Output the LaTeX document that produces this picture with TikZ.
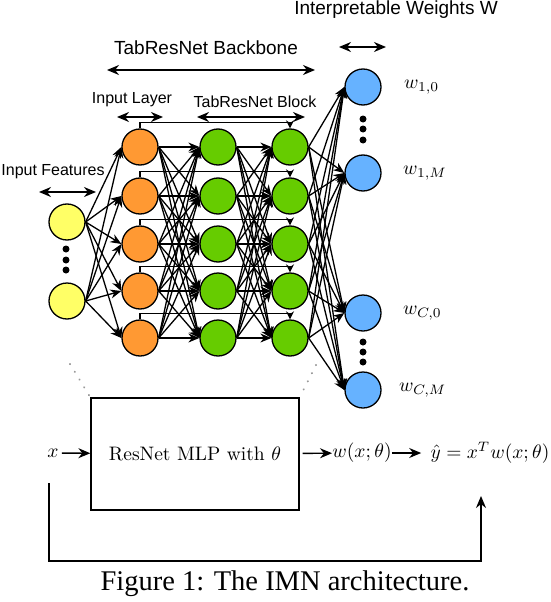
\documentclass[tikz,border=0pt]{standalone}
\usepackage{fontspec}
\newfontfamily\labelfont{Liberation Sans}
\newfontfamily\capfont{Liberation Serif}
\usepackage{graphicx}
\usepackage{tikz}
\usetikzlibrary{
  arrows.meta,
  positioning,
  calc
}
\usepackage{xcolor}
\definecolor{inyellow} {RGB}{255, 255, 102}
\definecolor{layorange}{RGB}{255, 153,  51}
\definecolor{blkgreen} {RGB}{102, 204,   0}
\definecolor{wblue}    {RGB}{102, 178, 255}
\tikzset{
  neuron/.style={
    circle, draw=black, fill=#1, line width=1.3pt,
    minimum size=36pt, inner sep=0pt
  },
  conn/.style={
    -{Stealth[length=11pt,width=9pt]}, line width=1.3pt
  },
  skipconn/.style={
    -{Stealth[length=8pt,width=8pt]}, line width=1.3pt
  },
  spanarrow/.style={
    {Stealth[length=12pt,width=10pt]}-{Stealth[length=12pt,width=10pt]},
    line width=1.5pt
  },
  flow/.style={
    -{Stealth[length=12pt,width=10pt]}, line width=1.4pt
  },
  toplabel/.style={
    font=\labelfont\fontsize{19}{22}\selectfont, inner sep=0pt
  },
  sublabel/.style={
    font=\labelfont\fontsize{16}{19}\selectfont, inner sep=0pt
  },
  mathlabel/.style={
    font=\fontsize{10}{12}\selectfont, scale=1.95, inner sep=0pt
  },
  vdot/.style={
    circle, fill=black, minimum size=7pt, inner sep=0pt
  },
  zoomline/.style={
    draw=black!40, line width=2.2pt, line cap=round,
    dash pattern=on 0.1pt off 9pt
  },
}

\begin{document}
\begin{tikzpicture}[x=1pt, y=-1pt]
\useasboundingbox (0,0) rectangle (550,602);

% ── Input features ────────────────────────────────────────────────────────────
\node[neuron=inyellow] (in1) at (67,222) {};
\node[neuron=inyellow] (in2) at (67,301) {};
\node[vdot] (indot1) at (66,249) {};
\node[vdot] (indot2) at (66,260) {};
\node[vdot] (indot3) at (66,270) {};

% ── Input layer and TabResNet block ───────────────────────────────────────────
\foreach \i/\y in {1/147, 2/196, 3/244, 4/291, 5/338} {
  \node[neuron=layorange] (il\i) at (140,\y) {};
  \node[neuron=blkgreen]  (ba\i) at (218,\y) {};
  \node[neuron=blkgreen]  (bb\i) at (290,\y) {};
}

% ── Interpretable weights ─────────────────────────────────────────────────────
\node[neuron=wblue] (w1) at (363,87)  {};
\node[neuron=wblue] (w2) at (363,173) {};
\node[neuron=wblue] (w3) at (363,313) {};
\node[neuron=wblue] (w4) at (363,390) {};
\node[vdot] (wdot1) at (363,119) {};
\node[vdot] (wdot2) at (363,129) {};
\node[vdot] (wdot3) at (363,140) {};
\node[vdot] (wdot4) at (363,342) {};
\node[vdot] (wdot5) at (363,352) {};
\node[vdot] (wdot6) at (363,362) {};

\node[mathlabel, right=22pt of w1] (lw1) {$w_{1,0}$};
\node[mathlabel, right=21pt of w2] (lw2) {$w_{1,M}$};
\node[mathlabel, right=21pt of w3] (lw3) {$w_{C,0}$};
\node[mathlabel, right=17pt of w4] (lw4) {$w_{C,M}$};

% ── Dense connections ─────────────────────────────────────────────────────────
\foreach \s in {1,2}
  \foreach \t in {1,...,5}
    \draw[conn] (in\s.east) -- (il\t.west);

\foreach \s in {1,...,5}
  \foreach \t in {1,...,5} {
    \draw[conn] (il\s.east) -- (ba\t.west);
    \draw[conn] (ba\s.east) -- (bb\t.west);
  }

\foreach \s in {1,...,5}
  \foreach \t in {1,...,4}
    \draw[conn] (bb\s.east) -- (w\t.west);

% ── Skip connections ──────────────────────────────────────────────────────────
\foreach \i in {1,...,5}
  \draw[skipconn] (il\i.north) -- ++(0,-6) -| (bb\i.north);

% ── Span arrows and labels ────────────────────────────────────────────────────
\coordinate (wsL) at (339,47);  \coordinate (wsR) at (386,47);
\coordinate (bkL) at (107,70);  \coordinate (bkR) at (315,70);
\coordinate (ilL) at (117,117); \coordinate (ilR) at (163,117);
\coordinate (blL) at (197,117); \coordinate (blR) at (305,117);
\coordinate (ifL) at (39,192);  \coordinate (ifR) at (96,192);

\draw[spanarrow] (wsL) -- (wsR);
\draw[spanarrow] (bkL) -- (bkR);
\draw[spanarrow] (ilL) -- (ilR);
\draw[spanarrow] (blL) -- (blR);
\draw[spanarrow] (ifL) -- (ifR);

\node[toplabel] (lws) at (396,10)  {Interpretable Weights W};
\node[toplabel] (lbk) at (206,48)  {TabResNet Backbone};
\node[sublabel] (lil) at (132,100) {Input Layer};
\node[sublabel] (lbl) at (255,102) {TabResNet Block};
\node[sublabel] (lif) at (53,172)  {Input Features};

% ── Model view ────────────────────────────────────────────────────────────────
\node[mathlabel] (xin) at (53,453) {$x$};
\node[draw, line width=1.3pt, minimum width=208pt, minimum height=112pt,
      inner sep=0pt] (mlp) at (195,454)
  {\scalebox{1.95}{ResNet MLP with $\theta$}};
\node[mathlabel] (wout) at (362,453) {$w(x;\theta)$};
\node[mathlabel] (yhat) at (490,453) {$\hat{y}=x^Tw(x;\theta)$};

\draw[flow, shorten <=3pt] (xin) -- (mlp);
\draw[flow, shorten <=3pt] (mlp) -- (wout);
\draw[flow, shorten >=9pt] (wout) -- (yhat);

% ── Residual path x → ŷ ───────────────────────────────────────────────────────
\coordinate (fbstart) at (49,483);
\coordinate (fbend)   at (481,496);
\draw[flow] (fbstart) -- ++(0,78) -| (fbend);

% ── Zoom lines ────────────────────────────────────────────────────────────────
\coordinate (zmL) at (70,364);
\coordinate (zmR) at (316,365);
\draw[zoomline] (zmL) -- (mlp.north west);
\draw[zoomline] (zmR) -- (mlp.north east);

% ── Caption ───────────────────────────────────────────────────────────────────
\node[font=\capfont\fontsize{28.5}{32}\selectfont] (cap) at (285,584)
  {Figure 1: The IMN architecture.};

\end{tikzpicture}
\end{document}
